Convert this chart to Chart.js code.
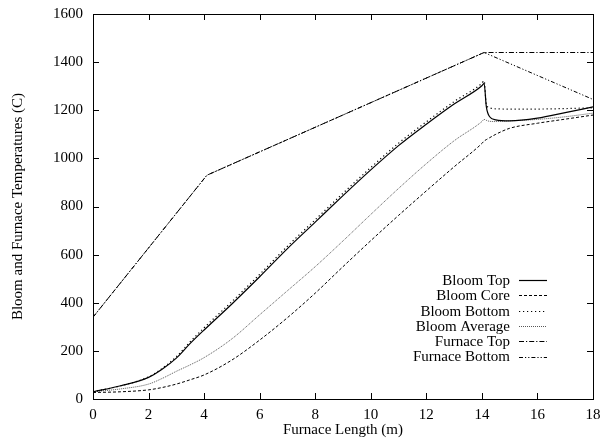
<!DOCTYPE html>
<html>
<head>
<meta charset="utf-8">
<script src="https://cdn.jsdelivr.net/npm/chart.js@4/dist/chart.umd.min.js"></script>
<style>
  html, body { margin: 0; padding: 0; background: #fff; }
  canvas { display: block; }
</style>
</head>
<body>
<canvas id="chart1" width="603" height="442"></canvas>
<script>
// 데이터 (값은 그림에서 읽음)
const lengthPts = [0, 1, 2, 2.5, 3, 3.5, 4, 5, 6, 7, 8, 9, 10, 11, 12, 13, 14, 14.08, 14.16, 14.28, 14.5, 15, 16, 17, 18];
const bloomTop = [30, 55, 90, 125, 170, 231, 287, 395, 508, 625, 735, 845, 952, 1053, 1142, 1226, 1302, 1312, 1215, 1173, 1160, 1156, 1167, 1190, 1214];
const bloomCore = [27, 30, 38, 48, 62, 80, 100, 162, 245, 338, 440, 550, 658, 763, 865, 965, 1062, 1072, 1078, 1086, 1100, 1125, 1146, 1163, 1180];
const bloomBottom = [30, 55, 92, 128, 176, 238, 296, 405, 518, 635, 745, 855, 962, 1063, 1152, 1236, 1312, 1322, 1225, 1210, 1206, 1205, 1205, 1207, 1210];
const bloomAverage = [30, 42, 62, 86, 115, 142, 172, 250, 350, 450, 550, 657, 767, 875, 978, 1073, 1153, 1162, 1158, 1154, 1153, 1156, 1162, 1173, 1188];

const furnaceLength = [0, 4.1, 14.08, 18];
const furnaceTop = [340, 930, 1440, 1440];
const furnaceBottom = [340, 930, 1440, 1245];

const xTicks = [0, 2, 4, 6, 8, 10, 12, 14, 16, 18];
const yTicks = [0, 200, 400, 600, 800, 1000, 1200, 1400, 1600];

const FONT = '"Liberation Serif", "DejaVu Serif", serif';

function toPoints(xs, ys) {
  return xs.map((x, i) => ({ x: x, y: ys[i] }));
}

const series = [
  { label: 'Bloom Top', xs: lengthPts, ys: bloomTop, dash: [], color: '#000', width: 1.2, smooth: true },
  { label: 'Bloom Core', xs: lengthPts, ys: bloomCore, dash: [3, 2], color: '#000', width: 1, smooth: true },
  { label: 'Bloom Bottom', xs: lengthPts, ys: bloomBottom, dash: [1.2, 2.8], color: '#000', width: 1.2, smooth: true },
  { label: 'Bloom Average', xs: lengthPts, ys: bloomAverage, dash: [1, 1], color: '#444', width: 0.9, smooth: true },
  { label: 'Furnace Top', xs: furnaceLength, ys: furnaceTop, dash: [5, 2, 1.2, 2], color: '#000', width: 1, smooth: false },
  { label: 'Furnace Bottom', xs: furnaceLength, ys: furnaceBottom, dash: [4, 2, 1.2, 2, 1.2, 2], color: '#000', width: 1, smooth: false },
];

var datasets = series.map(s => ({
  label: s.label,
  data: toPoints(s.xs, s.ys),
  borderColor: s.color,
  backgroundColor: s.color,
  borderWidth: s.width,
  borderDash: s.dash,
  pointRadius: 0,
  fill: false,
  tension: 0,
  cubicInterpolationMode: s.smooth ? 'monotone' : 'default',
}));

// gnuplot 스타일 테두리, 안쪽 눈금, 범례
const framePlugin = {
  id: 'frame',
  afterDraw(chart) {
    const ctx = chart.ctx;
    const a = chart.chartArea;
    const xs = chart.scales.x, ys = chart.scales.y;
    const tl = 6;
    ctx.save();
    ctx.strokeStyle = '#000';
    ctx.lineWidth = 1;
    ctx.setLineDash([]);
    ctx.strokeRect(Math.round(a.left) + 0.5, Math.round(a.top) + 0.5,
      Math.round(a.right - a.left), Math.round(a.bottom - a.top));
    ctx.beginPath();
    xTicks.forEach(v => {
      const px = Math.round(xs.getPixelForValue(v)) + 0.5;
      ctx.moveTo(px, a.bottom); ctx.lineTo(px, a.bottom - tl);
      ctx.moveTo(px, a.top); ctx.lineTo(px, a.top + tl);
    });
    yTicks.forEach(v => {
      const py = Math.round(ys.getPixelForValue(v)) + 0.5;
      ctx.moveTo(a.left, py); ctx.lineTo(a.left + tl, py);
      ctx.moveTo(a.right, py); ctx.lineTo(a.right - tl, py);
    });
    ctx.stroke();

    // 범례
    ctx.font = '15px ' + FONT;
    ctx.fillStyle = '#000';
    ctx.textAlign = 'right';
    ctx.textBaseline = 'middle';
    series.forEach((s, i) => {
      const y = 280 + i * 15.3;
      ctx.fillText(s.label, 510, y + 1);
      ctx.beginPath();
      ctx.strokeStyle = s.color;
      ctx.lineWidth = s.width;
      ctx.setLineDash(s.dash);
      ctx.moveTo(519, Math.round(y) + 0.5);
      ctx.lineTo(547, Math.round(y) + 0.5);
      ctx.stroke();
    });
    ctx.restore();
  },
};

var ctx = document.getElementById('chart1').getContext('2d');
new Chart(ctx, {
  type: 'line',
  data: { datasets: datasets },
  plugins: [framePlugin],
  options: {
    responsive: false,
    animation: false,
    devicePixelRatio: 1,
    layout: { padding: { left: 0, right: 10, top: 14, bottom: 0 } },
    plugins: { legend: { display: false }, tooltip: { enabled: false } },
    scales: {
      x: {
        type: 'linear',
        min: 0,
        max: 18,
        afterFit: s => { s.height = 43; s.paddingLeft = 0; s.paddingRight = 0; },
        afterBuildTicks: s => { s.ticks = xTicks.map(v => ({ value: v })); },
        grid: { display: false, drawTicks: false },
        border: { display: false },
        ticks: { color: '#000', padding: 7, maxRotation: 0, autoSkip: false, callback: v => String(v), font: { family: FONT, size: 15 } },
        title: { display: true, text: 'Furnace Length (m)', color: '#000', padding: { top: 0, bottom: 3 }, font: { family: FONT, size: 15 } },
      },
      y: {
        type: 'linear',
        min: 0,
        max: 1600,
        afterFit: s => { s.width = 93; s.paddingTop = 0; s.paddingBottom = 0; },
        afterBuildTicks: s => { s.ticks = yTicks.map(v => ({ value: v })); },
        grid: { display: false, drawTicks: false },
        border: { display: false },
        ticks: { color: '#000', padding: 10, autoSkip: false, callback: v => String(v), font: { family: FONT, size: 15 } },
        title: { display: true, text: 'Bloom and Furnace Temperatures (C)', color: '#000', padding: { top: 9, bottom: 0 }, font: { family: FONT, size: 15 } },
      },
    },
  },
});
</script>
</body>
</html>
